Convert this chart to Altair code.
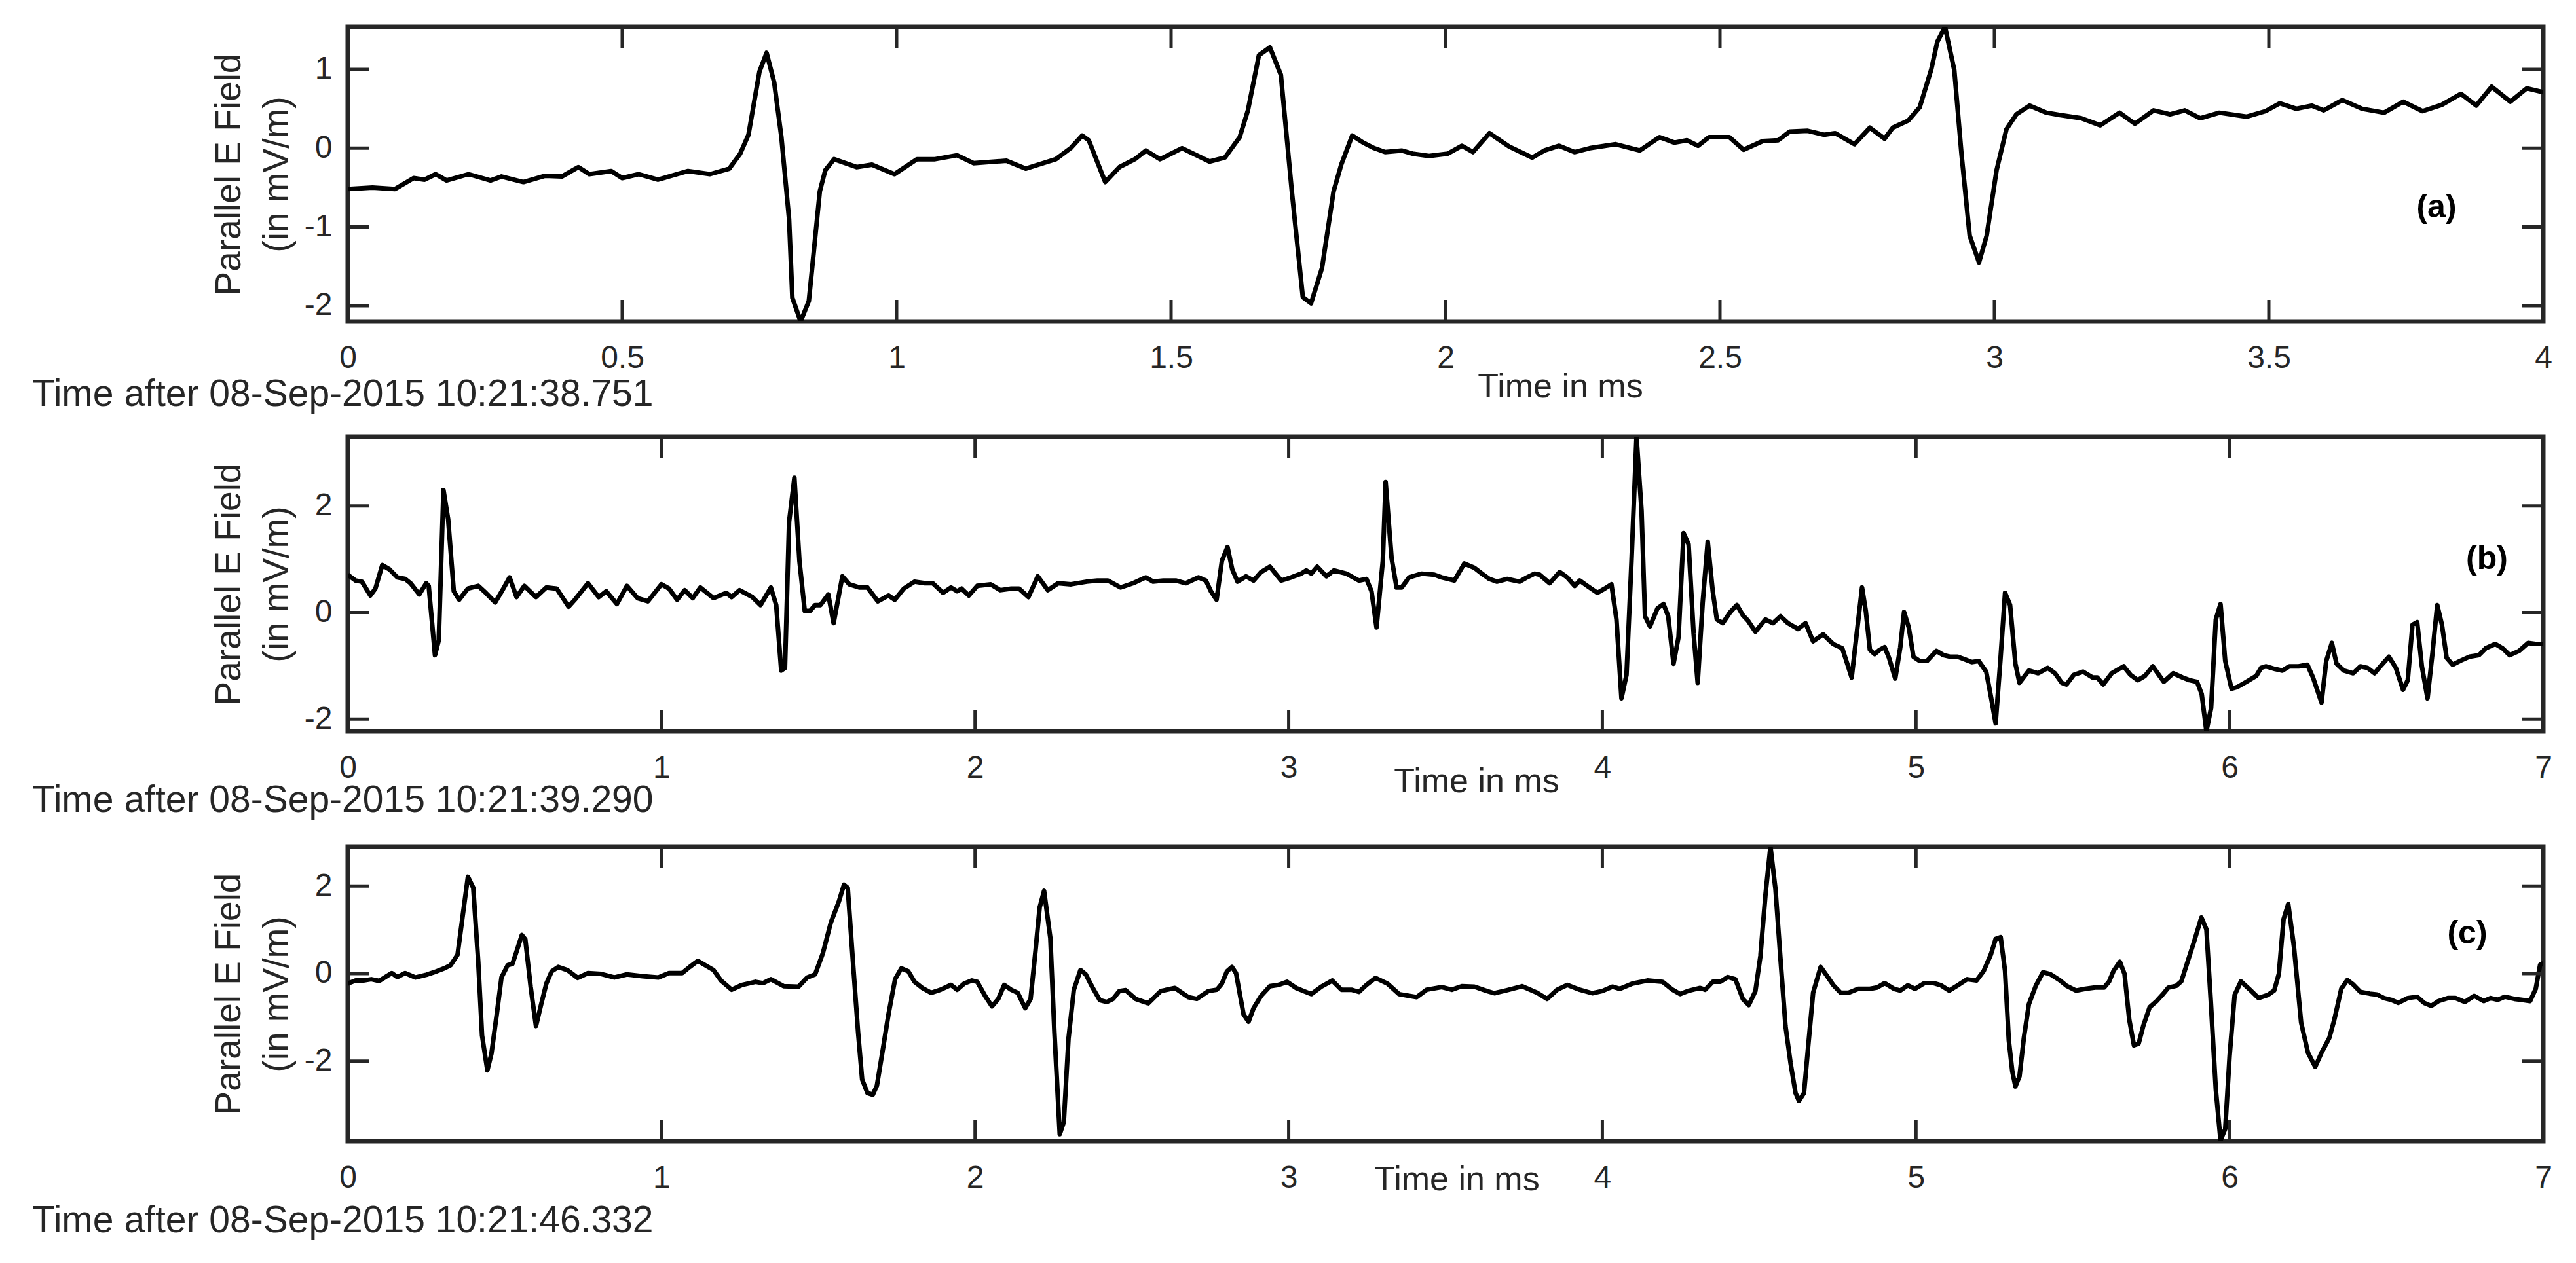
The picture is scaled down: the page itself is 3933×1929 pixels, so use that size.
import altair as alt
import pandas as pd

FONT = "Liberation Sans"
INK = "#262626"
W = 3352
H = 450
TL = 33

# ---- panel (a) ----
ta = [0, 0.045, 0.086, 0.12, 0.14, 0.16, 0.18, 0.22, 0.26, 0.28,
      0.32, 0.36, 0.39, 0.42, 0.44, 0.48, 0.50, 0.53, 0.565, 0.62,
      0.66, 0.695, 0.715, 0.73, 0.75, 0.763, 0.777, 0.79, 0.804, 0.81,
      0.825, 0.84, 0.86, 0.87, 0.886, 0.927, 0.955, 0.996, 1.037, 1.07,
      1.11, 1.14, 1.20, 1.235, 1.29, 1.317, 1.338, 1.35, 1.38, 1.406,
      1.434, 1.454, 1.48, 1.52, 1.57, 1.598, 1.625, 1.64, 1.66, 1.68,
      1.70, 1.72, 1.74, 1.755, 1.775, 1.796, 1.81, 1.83, 1.85, 1.87,
      1.89, 1.92, 1.94, 1.97, 2.004, 2.03, 2.05, 2.08, 2.116, 2.158,
      2.18, 2.207, 2.235, 2.263, 2.31, 2.354, 2.39, 2.417, 2.44, 2.46,
      2.48, 2.517, 2.543, 2.578, 2.606, 2.627, 2.66, 2.69, 2.71, 2.745,
      2.773, 2.80, 2.815, 2.843, 2.864, 2.885, 2.896, 2.91, 2.927, 2.94,
      2.955, 2.972, 2.986, 3.004, 3.022, 3.04, 3.064, 3.095, 3.12, 3.158,
      3.193, 3.228, 3.256, 3.29, 3.32, 3.347, 3.375, 3.41, 3.46, 3.494,
      3.52, 3.55, 3.578, 3.60, 3.634, 3.67, 3.71, 3.745, 3.78, 3.815,
      3.85, 3.878, 3.906, 3.94, 3.97, 4.0]
va = [-0.52, -0.50, -0.52, -0.38, -0.40, -0.33, -0.41, -0.33, -0.41, -0.36,
      -0.43, -0.35, -0.36, -0.24, -0.33, -0.29, -0.38, -0.33, -0.40, -0.29,
      -0.33, -0.26, -0.07, 0.17, 0.97, 1.21, 0.83, 0.14, -0.90, -1.90,
      -2.20, -1.94, -0.55, -0.28, -0.14, -0.24, -0.21, -0.33, -0.14, -0.14,
      -0.09, -0.19, -0.16, -0.26, -0.14, 0.0, 0.16, 0.10, -0.43, -0.24,
      -0.14, -0.03, -0.14, 0.0, -0.17, -0.12, 0.14, 0.48, 1.18, 1.28,
      0.93, -0.55, -1.89, -1.97, -1.52, -0.55, -0.21, 0.16, 0.07, 0.0,
      -0.05, -0.03, -0.07, -0.10, -0.07, 0.03, -0.05, 0.19, 0.02, -0.12,
      -0.03, 0.03, -0.05, 0.0, 0.05, -0.03, 0.14, 0.07, 0.10, 0.03,
      0.14, 0.14, -0.02, 0.09, 0.10, 0.21, 0.22, 0.17, 0.19, 0.05,
      0.26, 0.12, 0.26, 0.35, 0.52, 1.0, 1.35, 1.54, 0.99, -0.07,
      -1.11, -1.45, -1.11, -0.28, 0.24, 0.43, 0.54, 0.45, 0.42, 0.38,
      0.29, 0.45, 0.31, 0.48, 0.43, 0.48, 0.38, 0.45, 0.40, 0.47,
      0.57, 0.50, 0.54, 0.48, 0.61, 0.50, 0.45, 0.59, 0.47, 0.55,
      0.69, 0.54, 0.78, 0.59, 0.76, 0.71]

# ---- panel (b) ----
tb = [0, 0.025, 0.045, 0.072, 0.088, 0.11, 0.133, 0.158, 0.183, 0.20,
      0.228, 0.25, 0.258, 0.278, 0.29, 0.305, 0.32, 0.338, 0.355, 0.383,
      0.416, 0.44, 0.47, 0.496, 0.516, 0.538, 0.563, 0.60, 0.633, 0.666,
      0.704, 0.724, 0.766, 0.80, 0.824, 0.858, 0.89, 0.924, 0.957, 1.0,
      1.024, 1.05, 1.074, 1.10, 1.124, 1.166, 1.207, 1.224, 1.249, 1.29,
      1.316, 1.349, 1.366, 1.382, 1.394, 1.407, 1.424, 1.44, 1.457, 1.474,
      1.49, 1.507, 1.532, 1.549, 1.577, 1.599, 1.632, 1.657, 1.69, 1.724,
      1.744, 1.773, 1.807, 1.84, 1.865, 1.898, 1.923, 1.943, 1.957, 1.98,
      2.007, 2.05, 2.08, 2.115, 2.14, 2.17, 2.20, 2.232, 2.265, 2.306,
      2.356, 2.39, 2.424, 2.464, 2.504, 2.544, 2.568, 2.60, 2.64, 2.672,
      2.712, 2.736, 2.752, 2.77, 2.787, 2.805, 2.82, 2.837, 2.864, 2.888,
      2.912, 2.94, 2.976, 3.008, 3.04, 3.056, 3.072, 3.091, 3.12, 3.144,
      3.184, 3.224, 3.248, 3.264, 3.28, 3.30, 3.309, 3.328, 3.344, 3.36,
      3.384, 3.424, 3.464, 3.488, 3.528, 3.56, 3.592, 3.616, 3.64, 3.664,
      3.696, 3.736, 3.76, 3.784, 3.80, 3.832, 3.864, 3.888, 3.912, 3.928,
      3.952, 3.984, 4.008, 4.029, 4.045, 4.061, 4.077, 4.093, 4.109, 4.125,
      4.136, 4.152, 4.176, 4.195, 4.21, 4.227, 4.243, 4.259, 4.275, 4.291,
      4.304, 4.32, 4.336, 4.352, 4.365, 4.384, 4.408, 4.429, 4.448, 4.464,
      4.488, 4.52, 4.544, 4.568, 4.592, 4.624, 4.648, 4.672, 4.704, 4.736,
      4.765, 4.795, 4.828, 4.84, 4.853, 4.868, 4.884, 4.90, 4.914, 4.934,
      4.95, 4.962, 4.977, 4.992, 5.012, 5.035, 5.065, 5.088, 5.11, 5.133,
      5.156, 5.178, 5.20, 5.224, 5.239, 5.254, 5.269, 5.284, 5.30, 5.317,
      5.33, 5.36, 5.39, 5.42, 5.443, 5.465, 5.48, 5.503, 5.533, 5.563,
      5.578, 5.597, 5.624, 5.662, 5.684, 5.707, 5.73, 5.755, 5.79, 5.82,
      5.85, 5.872, 5.896, 5.911, 5.926, 5.941, 5.956, 5.971, 5.986, 6.006,
      6.024, 6.054, 6.085, 6.10, 6.115, 6.145, 6.168, 6.19, 6.22, 6.248,
      6.266, 6.293, 6.308, 6.326, 6.341, 6.364, 6.394, 6.417, 6.44, 6.462,
      6.485, 6.508, 6.53, 6.553, 6.568, 6.583, 6.598, 6.613, 6.631, 6.647,
      6.662, 6.677, 6.692, 6.711, 6.734, 6.764, 6.795, 6.817, 6.847, 6.87,
      6.893, 6.923, 6.952, 6.975, 7.0]
vb = [0.71, 0.60, 0.58, 0.32, 0.45, 0.89, 0.81, 0.66, 0.63, 0.55,
      0.34, 0.55, 0.50, -0.80, -0.52, 2.30, 1.75, 0.40, 0.24, 0.45,
      0.50, 0.37, 0.19, 0.45, 0.66, 0.29, 0.50, 0.29, 0.47, 0.45,
      0.11, 0.24, 0.55, 0.29, 0.40, 0.16, 0.50, 0.27, 0.21, 0.53,
      0.45, 0.24, 0.42, 0.27, 0.47, 0.27, 0.37, 0.29, 0.42, 0.29,
      0.14, 0.47, 0.14, -1.09, -1.04, 1.70, 2.53, 0.97, 0.03, 0.03,
      0.14, 0.14, 0.34, -0.20, 0.68, 0.53, 0.47, 0.47, 0.21, 0.32,
      0.24, 0.45, 0.58, 0.55, 0.55, 0.37, 0.47, 0.40, 0.45, 0.32,
      0.50, 0.53, 0.42, 0.45, 0.45, 0.29, 0.68, 0.42, 0.55, 0.53,
      0.58, 0.60, 0.60, 0.47, 0.55, 0.66, 0.58, 0.60, 0.60, 0.55,
      0.66, 0.60, 0.40, 0.24, 0.97, 1.23, 0.81, 0.58, 0.68, 0.60,
      0.76, 0.86, 0.60, 0.66, 0.73, 0.79, 0.73, 0.86, 0.68, 0.79,
      0.73, 0.60, 0.63, 0.40, -0.28, 0.97, 2.45, 1.02, 0.47, 0.47,
      0.66, 0.73, 0.71, 0.66, 0.60, 0.92, 0.84, 0.73, 0.63, 0.58,
      0.63, 0.58, 0.66, 0.73, 0.71, 0.55, 0.76, 0.66, 0.50, 0.60,
      0.50, 0.37, 0.45, 0.53, -0.13, -1.61, -1.17, 0.97, 3.30, 1.91,
      -0.07, -0.26, 0.08, 0.16, -0.07, -0.96, -0.46, 1.49, 1.28, -0.39,
      -1.32, 0.19, 1.33, 0.40, -0.13, -0.20, 0.01, 0.14, -0.05, -0.15,
      -0.36, -0.13, -0.20, -0.07, -0.20, -0.31, -0.20, -0.54, -0.41, -0.59,
      -0.67, -1.22, 0.47, 0.03, -0.70, -0.78, -0.70, -0.65, -0.85, -1.24,
      -0.65, 0.01, -0.28, -0.83, -0.91, -0.91, -0.72, -0.80, -0.83, -0.83,
      -0.88, -0.93, -0.91, -1.11, -1.58, -2.08, -0.91, 0.37, 0.14, -0.96,
      -1.32, -1.09, -1.14, -1.04, -1.14, -1.32, -1.35, -1.17, -1.11, -1.22,
      -1.22, -1.35, -1.14, -1.01, -1.17, -1.27, -1.19, -1.01, -1.30, -1.14,
      -1.22, -1.27, -1.30, -1.53, -2.23, -1.79, -0.13, 0.16, -0.91, -1.43,
      -1.40, -1.30, -1.19, -1.04, -1.01, -1.06, -1.09, -1.01, -1.01, -0.98,
      -1.22, -1.69, -0.91, -0.57, -0.96, -1.09, -1.14, -1.01, -1.04, -1.14,
      -0.98, -0.83, -1.04, -1.45, -1.27, -0.23, -0.18, -1.01, -1.61, -0.75,
      0.14, -0.23, -0.85, -0.98, -0.91, -0.83, -0.80, -0.67, -0.59, -0.67,
      -0.80, -0.72, -0.57, -0.59, -0.59]

# ---- panel (c) ----
tc = [0, 0.025, 0.05, 0.075, 0.10, 0.14, 0.158, 0.183, 0.216, 0.25,
      0.283, 0.308, 0.328, 0.35, 0.366, 0.383, 0.40, 0.416, 0.428, 0.445,
      0.458, 0.475, 0.49, 0.51, 0.525, 0.538, 0.555, 0.566, 0.583, 0.60,
      0.616, 0.633, 0.65, 0.671, 0.70, 0.733, 0.766, 0.808, 0.85, 0.89,
      0.94, 0.99, 1.024, 1.066, 1.09, 1.116, 1.14, 1.166, 1.19, 1.224,
      1.257, 1.30, 1.324, 1.349, 1.39, 1.437, 1.465, 1.49, 1.515, 1.54,
      1.566, 1.582, 1.594, 1.61, 1.627, 1.64, 1.657, 1.674, 1.687, 1.707,
      1.724, 1.745, 1.765, 1.787, 1.807, 1.832, 1.86, 1.89, 1.923, 1.943,
      1.965, 1.99, 2.007, 2.032, 2.054, 2.074, 2.093, 2.115, 2.136, 2.16,
      2.177, 2.193, 2.206, 2.22, 2.24, 2.253, 2.27, 2.283, 2.298, 2.315,
      2.336, 2.353, 2.373, 2.398, 2.42, 2.44, 2.46, 2.48, 2.512, 2.552,
      2.592, 2.637, 2.68, 2.707, 2.744, 2.771, 2.787, 2.803, 2.819, 2.832,
      2.856, 2.872, 2.888, 2.912, 2.94, 2.968, 2.995, 3.024, 3.048, 3.072,
      3.104, 3.139, 3.168, 3.20, 3.224, 3.248, 3.277, 3.315, 3.352, 3.384,
      3.408, 3.44, 3.488, 3.52, 3.552, 3.592, 3.632, 3.656, 3.696, 3.744,
      3.792, 3.824, 3.856, 3.888, 3.928, 3.968, 4.0, 4.032, 4.056, 4.096,
      4.144, 4.192, 4.224, 4.248, 4.272, 4.312, 4.328, 4.352, 4.376, 4.40,
      4.424, 4.448, 4.467, 4.488, 4.504, 4.52, 4.536, 4.552, 4.568, 4.584,
      4.60, 4.616, 4.627, 4.643, 4.656, 4.672, 4.696, 4.717, 4.736, 4.76,
      4.785, 4.816, 4.853, 4.876, 4.90, 4.93, 4.95, 4.974, 4.997, 5.027,
      5.057, 5.08, 5.106, 5.133, 5.163, 5.193, 5.216, 5.239, 5.254, 5.27,
      5.284, 5.296, 5.307, 5.317, 5.33, 5.344, 5.36, 5.382, 5.405, 5.427,
      5.458, 5.48, 5.51, 5.54, 5.571, 5.60, 5.616, 5.63, 5.65, 5.665,
      5.68, 5.695, 5.71, 5.725, 5.745, 5.767, 5.785, 5.805, 5.83, 5.846,
      5.866, 5.885, 5.91, 5.926, 5.94, 5.956, 5.971, 5.986, 6.0, 6.016,
      6.036, 6.062, 6.092, 6.122, 6.142, 6.157, 6.172, 6.187, 6.205, 6.228,
      6.25, 6.273, 6.293, 6.318, 6.334, 6.356, 6.375, 6.394, 6.417, 6.447,
      6.47, 6.492, 6.515, 6.538, 6.568, 6.598, 6.62, 6.643, 6.666, 6.696,
      6.72, 6.75, 6.78, 6.81, 6.832, 6.855, 6.878, 6.908, 6.93, 6.958,
      6.976, 6.99, 7.0]
vc = [-0.23, -0.16, -0.16, -0.13, -0.17, 0.01, -0.08, 0.01, -0.09, -0.03,
      0.05, 0.12, 0.19, 0.43, 1.30, 2.21, 1.96, 0.26, -1.41, -2.21,
      -1.83, -0.93, -0.09, 0.19, 0.22, 0.50, 0.88, 0.78, -0.30, -1.20,
      -0.72, -0.23, 0.05, 0.15, 0.08, -0.10, 0.01, -0.01, -0.09, -0.02,
      -0.06, -0.09, 0.01, 0.01, 0.15, 0.29, 0.19, 0.08, -0.16, -0.37,
      -0.26, -0.19, -0.22, -0.13, -0.29, -0.30, -0.09, -0.02, 0.47, 1.16,
      1.65, 2.03, 1.96, 0.33, -1.34, -2.42, -2.73, -2.77, -2.56, -1.69,
      -0.93, -0.13, 0.12, 0.05, -0.19, -0.33, -0.44, -0.37, -0.26, -0.37,
      -0.23, -0.16, -0.19, -0.51, -0.75, -0.58, -0.26, -0.37, -0.44, -0.79,
      -0.58, 0.54, 1.51, 1.89, 0.81, -1.34, -3.67, -3.39, -1.48, -0.37,
      0.08, -0.02, -0.30, -0.61, -0.65, -0.58, -0.40, -0.38, -0.58, -0.68,
      -0.40, -0.33, -0.54, -0.58, -0.40, -0.37, -0.23, 0.05, 0.15, 0.01,
      -0.93, -1.10, -0.79, -0.51, -0.29, -0.26, -0.19, -0.33, -0.40, -0.47,
      -0.30, -0.16, -0.37, -0.37, -0.42, -0.26, -0.10, -0.23, -0.47, -0.51,
      -0.54, -0.37, -0.31, -0.37, -0.29, -0.30, -0.40, -0.45, -0.38, -0.29,
      -0.44, -0.58, -0.37, -0.26, -0.37, -0.45, -0.40, -0.30, -0.35, -0.23,
      -0.16, -0.19, -0.37, -0.47, -0.40, -0.33, -0.37, -0.19, -0.19, -0.08,
      -0.13, -0.58, -0.72, -0.40, 0.40, 1.79, 2.90, 1.93, 0.33, -1.20,
      -2.04, -2.73, -2.91, -2.73, -1.69, -0.44, 0.15, -0.06, -0.26, -0.44,
      -0.44, -0.35, -0.35, -0.32, -0.22, -0.35, -0.39, -0.27, -0.35, -0.22,
      -0.22, -0.27, -0.39, -0.27, -0.13, -0.16, 0.06, 0.44, 0.79, 0.83,
      0.06, -1.53, -2.23, -2.58, -2.35, -1.47, -0.70, -0.28, 0.03, -0.01,
      -0.15, -0.28, -0.39, -0.35, -0.32, -0.32, -0.18, 0.06, 0.27, -0.01,
      -1.05, -1.64, -1.60, -1.19, -0.77, -0.63, -0.49, -0.32, -0.28, -0.18,
      0.27, 0.69, 1.28, 1.01, -0.63, -2.65, -3.81, -3.55, -1.88, -0.49,
      -0.18, -0.35, -0.56, -0.49, -0.39, -0.01, 1.24, 1.59, 0.62, -1.12,
      -1.81, -2.13, -1.81, -1.47, -1.05, -0.35, -0.15, -0.25, -0.42, -0.46,
      -0.48, -0.56, -0.60, -0.67, -0.56, -0.53, -0.67, -0.74, -0.63, -0.56,
      -0.56, -0.65, -0.51, -0.63, -0.56, -0.60, -0.53, -0.58, -0.60, -0.63,
      -0.35, 0.20, 0.24]

xticks_a = [0, 0.5, 1, 1.5, 2, 2.5, 3, 3.5, 4]
yticks_a = [-2, -1, 0, 1]
xticks_bc = [0, 1, 2, 3, 4, 5, 6, 7]
yticks_bc = [-2, 0, 2]

xdom_a = [0, 4]
xdom_bc = [0, 7]
ydom_a = [-2.2, 1.54]
ydom_b = [-2.23, 3.30]
ydom_c = [-3.83, 2.90]

stamps = ["Time after 08-Sep-2015 10:21:38.751",
          "Time after 08-Sep-2015 10:21:39.290",
          "Time after 08-Sep-2015 10:21:46.332"]
panel_labels = ["(a)", "(b)", "(c)"]
x_title = "Time in ms"
y_title = ["Parallel E Field", "(in mV/m)"]


def panel(t, v, xdom, ydom, xticks, yticks, stamp, label, lay):
    assert len(t) == len(v)
    df = pd.DataFrame({"t": t, "v": v})
    xt = pd.DataFrame({"t": xticks})
    yt = pd.DataFrame({"v": yticks})
    xs = alt.Scale(domain=xdom, nice=False, zero=False)
    ys = alt.Scale(domain=ydom, nice=False, zero=False)
    xaxis = alt.Axis(values=xticks, ticks=False, tickSize=0, domain=False, grid=False,
                     labelFlush=False, labelOverlap=False, labelFont=FONT, labelFontSize=48,
                     labelColor=INK, labelPadding=70, labelBaseline="alphabetic",
                     labelExpr="'' + datum.value",
                     title=x_title, titleFont=FONT, titleFontSize=52, titleFontWeight="normal",
                     titleColor=INK, titleX=lay["tx"], titleY=lay["ty"], titleAlign="center",
                     titleBaseline="alphabetic")
    yaxis = alt.Axis(values=yticks, ticks=False, tickSize=0, domain=False, grid=False,
                     labelFlush=False, labelOverlap=False, labelFont=FONT, labelFontSize=48,
                     labelColor=INK, labelPadding=24, labelBaseline="middle", labelAlign="right",
                     labelExpr="'' + datum.value",
                     title=y_title, titleFont=FONT, titleFontSize=55, titleFontWeight="normal",
                     titleColor=INK, titleAngle=270, titleX=-165, titleY=H / 2,
                     titleAlign="center", titleBaseline="alphabetic", titleLineHeight=73)
    line = alt.Chart(df).mark_line(color="black", strokeWidth=7, clip=True,
                                   strokeJoin="round").encode(
        x=alt.X("t:Q", scale=xs, axis=xaxis),
        y=alt.Y("v:Q", scale=ys, axis=yaxis))
    XN = alt.X("t:Q", scale=xs, axis=None)
    YN = alt.Y("v:Q", scale=ys, axis=None)
    tick_style = dict(color=INK, strokeWidth=5)
    bot = alt.Chart(xt).mark_rule(**tick_style).encode(
        x=XN, y=alt.value(H), y2=alt.value(H - TL))
    top = alt.Chart(xt).mark_rule(**tick_style).encode(
        x=XN, y=alt.value(0), y2=alt.value(TL))
    left = alt.Chart(yt).mark_rule(**tick_style).encode(
        y=YN, x=alt.value(0), x2=alt.value(TL))
    right = alt.Chart(yt).mark_rule(**tick_style).encode(
        y=YN, x=alt.value(W), x2=alt.value(W - TL))
    st = alt.Chart(pd.DataFrame({"s": [stamp]})).mark_text(
        align="left", baseline="alphabetic", font=FONT, fontSize=57, color=INK).encode(
        text="s:N", x=alt.value(lay["sx"]), y=alt.value(H + lay["sy"]))
    lb = alt.Chart(pd.DataFrame({"s": [label]})).mark_text(
        align="center", baseline="middle", font=FONT, fontSize=50, fontWeight="bold",
        color="black").encode(text="s:N", x=alt.value(lay["lx"]), y=alt.value(lay["ly"]))
    return (alt.layer(line, bot, top, left, right, st, lb)
            .resolve_axis(x="independent", y="independent")
            .properties(width=W, height=H))


pa = panel(ta, va, xdom_a, ydom_a, xticks_a, yticks_a, stamps[0], panel_labels[0],
           dict(tx=1851, ty=115, sx=-482, sy=129, lx=3189, ly=276))
pb = panel(tb, vb, xdom_bc, ydom_b, xticks_bc, yticks_bc, stamps[1], panel_labels[1],
           dict(tx=1723, ty=92, sx=-482, sy=123, lx=3266, ly=187))
pc = panel(tc, vc, xdom_bc, ydom_c, xticks_bc, yticks_bc, stamps[2], panel_labels[2],
           dict(tx=1693, ty=74, sx=-482, sy=139, lx=3236, ly=133))

chart = alt.vconcat(pa, pb, pc, spacing=176, bounds="flush").properties(
    padding={"left": 37, "top": 27, "right": 20, "bottom": 10},
    background="white",
).configure_view(stroke=INK, strokeWidth=7)

chart.save("out.html", embed_options={"renderer": "svg", "actions": False})
